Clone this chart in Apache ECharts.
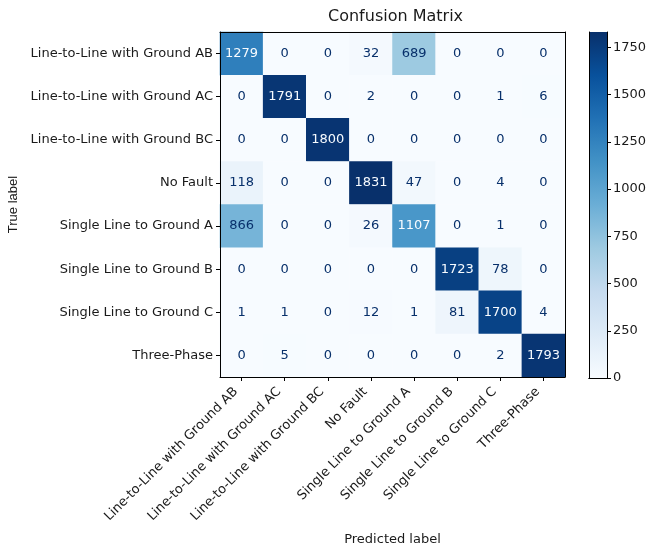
<!DOCTYPE html>
<html>
<head>
<meta charset="utf-8">
<script src="https://cdn.jsdelivr.net/npm/echarts@6/dist/echarts.min.js"></script>
<style>
  html, body { margin: 0; padding: 0; background: #ffffff; }
  #chart { width: 648px; height: 548px; }
</style>
</head>
<body>
<div id="chart"></div>
<script>
// Class names (rows = true label, columns = predicted label)
const classLabels = [
  'Line-to-Line with Ground AB',
  'Line-to-Line with Ground AC',
  'Line-to-Line with Ground BC',
  'No Fault',
  'Single Line to Ground A',
  'Single Line to Ground B',
  'Single Line to Ground C',
  'Three-Phase'
];

// Confusion counts, one row per true class
const rowLLG_AB = [1279, 0, 0, 32, 689, 0, 0, 0];
const rowLLG_AC = [0, 1791, 0, 2, 0, 0, 1, 6];
const rowLLG_BC = [0, 0, 1800, 0, 0, 0, 0, 0];
const rowNoFault = [118, 0, 0, 1831, 47, 0, 4, 0];
const rowSLG_A = [866, 0, 0, 26, 1107, 0, 1, 0];
const rowSLG_B = [0, 0, 0, 0, 0, 1723, 78, 0];
const rowSLG_C = [1, 1, 0, 12, 1, 81, 1700, 4];
const rowThreePhase = [0, 5, 0, 0, 0, 0, 2, 1793];
const countRows = [rowLLG_AB, rowLLG_AC, rowLLG_BC, rowNoFault, rowSLG_A, rowSLG_B, rowSLG_C, rowThreePhase];

// Colour bar tick spacing
const colorbarInterval = 250;

// Matplotlib "Blues" colormap stops
const blues = ['#f7fbff', '#deebf7', '#c6dbef', '#9ecae1', '#6baed6', '#4292c6', '#2171b5', '#08519c', '#08306b'];

const flat = countRows.flat();
const vMax = Math.max(...flat);
const vMin = Math.min(...flat);
const threshold = (vMax + vMin) / 2;

const heatData = [];
countRows.forEach((row, r) => {
  row.forEach((v, c) => heatData.push([c, r, v]));
});

const font = 'DejaVu Sans';
const ink = '#1a1a1a';

const chart = echarts.init(document.getElementById('chart'), null, { renderer: 'canvas' });

chart.setOption({
  animation: false,
  backgroundColor: '#ffffff',
  title: {
    text: 'Confusion Matrix',
    left: 328,
    top: 9,
    padding: 0,
    textStyle: { fontFamily: font, fontSize: 16, fontWeight: 'normal', color: ink }
  },
  grid: [
    { left: 220, top: 32, width: 345, height: 345, containLabel: false, outerBoundsMode: 'none' },
    { left: 589, top: 32, width: 18, height: 346, containLabel: false, outerBoundsMode: 'none' }
  ],
  xAxis: [
    {
      type: 'category', gridIndex: 0, data: classLabels, position: 'bottom', z: 10,
      name: 'Predicted label', nameLocation: 'middle', nameGap: 156,
      nameTextStyle: { fontFamily: font, fontSize: 13, color: ink },
      axisLine: { show: true, lineStyle: { color: '#000', width: 1 } },
      axisTick: { show: true, alignWithLabel: true, length: 4, lineStyle: { color: '#000' } },
      axisLabel: {
        rotate: 45, margin: 7, padding: [0, 8, 0, 0],
        fontFamily: font, fontSize: 13, color: ink, interval: 0
      },
      splitLine: { show: false }
    },
    {
      type: 'category', gridIndex: 0, data: classLabels, position: 'top', z: 10,
      axisLine: { show: true, lineStyle: { color: '#000', width: 1 } },
      axisTick: { show: false }, axisLabel: { show: false }, splitLine: { show: false }
    },
    {
      type: 'category', gridIndex: 1, data: ['scale'], z: 10,
      axisLine: { show: true, lineStyle: { color: '#000', width: 1 } },
      axisTick: { show: false }, axisLabel: { show: false }, splitLine: { show: false }
    },
    {
      type: 'category', gridIndex: 1, data: ['scale'], position: 'top', z: 10,
      axisLine: { show: true, lineStyle: { color: '#000', width: 1 } },
      axisTick: { show: false }, axisLabel: { show: false }, splitLine: { show: false }
    }
  ],
  yAxis: [
    {
      type: 'category', gridIndex: 0, data: classLabels, inverse: true, position: 'left', z: 10,
      name: 'True label', nameLocation: 'middle', nameGap: 196, nameRotate: 90,
      nameTextStyle: { fontFamily: 'Liberation Sans', fontSize: 13, color: ink },
      axisLine: { show: true, lineStyle: { color: '#000', width: 1 } },
      axisTick: { show: true, alignWithLabel: true, length: 4, lineStyle: { color: '#000' } },
      axisLabel: { margin: 7, fontFamily: font, fontSize: 13, color: ink, interval: 0 },
      splitLine: { show: false }
    },
    {
      type: 'category', gridIndex: 0, data: classLabels, inverse: true, position: 'right', z: 10,
      axisLine: { show: true, lineStyle: { color: '#000', width: 1 } },
      axisTick: { show: false }, axisLabel: { show: false }, splitLine: { show: false }
    },
    {
      type: 'value', gridIndex: 1, position: 'right', min: 0, max: vMax, interval: colorbarInterval, z: 10,
      axisLine: { show: true, lineStyle: { color: '#000', width: 1 } },
      axisTick: { show: true, length: 4, lineStyle: { color: '#000' } },
      axisLabel: {
        margin: 6, fontFamily: font, fontSize: 13, color: ink, showMaxLabel: false,
        formatter: (v) => String(v)
      },
      splitLine: { show: false }
    },
    {
      type: 'value', gridIndex: 1, position: 'left', min: 0, max: vMax, z: 10,
      axisLine: { show: true, lineStyle: { color: '#000', width: 1 } },
      axisTick: { show: false }, axisLabel: { show: false }, splitLine: { show: false }
    }
  ],
  visualMap: {
    show: false,
    type: 'continuous',
    seriesIndex: 0,
    dimension: 2,
    min: vMin,
    max: vMax,
    inRange: { color: blues }
  },
  series: [
    {
      type: 'heatmap',
      xAxisIndex: 0,
      yAxisIndex: 0,
      data: heatData,
      itemStyle: { borderWidth: 0 },
      label: {
        show: true,
        fontFamily: font,
        fontSize: 13,
        formatter: (p) => (p.value[2] > threshold ? '{w|' : '{d|') + p.value[2] + '}',
        rich: {
          w: { color: blues[0], fontFamily: font, fontSize: 13 },
          d: { color: blues[8], fontFamily: font, fontSize: 13 }
        }
      },
      emphasis: { disabled: true }
    },
    {
      // colour bar: one bar spanning the full value range, filled with the colormap
      type: 'bar',
      xAxisIndex: 2,
      yAxisIndex: 2,
      data: [vMax],
      barWidth: '100%',
      silent: true,
      itemStyle: {
        color: new echarts.graphic.LinearGradient(0, 1, 0, 0,
          blues.map((c, i) => ({ offset: i / (blues.length - 1), color: c })))
      }
    }
  ]
});
</script>
</body>
</html>
